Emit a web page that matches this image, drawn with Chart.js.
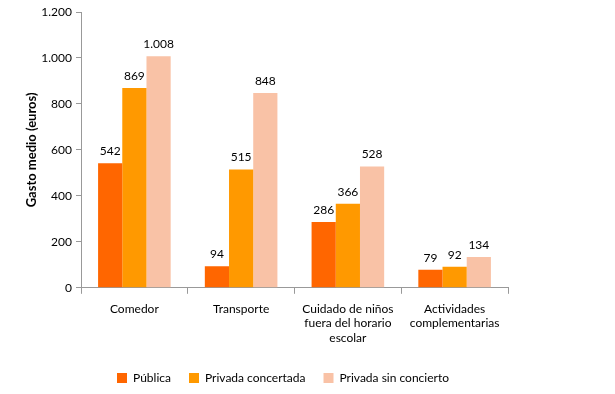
<!DOCTYPE html>
<html><head><meta charset="utf-8">
<script src="https://cdn.jsdelivr.net/npm/chart.js@4/dist/chart.umd.min.js"></script>
<style>html,body{margin:0;padding:0;background:#fff}#wrap{width:615px;height:394px}</style>
</head><body><div id="wrap"><canvas id="c" width="615" height="394"></canvas></div>
<script>
const categories = [["Comedor"], ["Transporte"], ["Cuidado de niños","fuera del horario","escolar"], ["Actividades","complementarias"]];
const seriesNames = ["Pública", "Privada concertada", "Privada sin concierto"];
const publica = [542, 94, 286, 79];
const concertada = [869, 515, 366, 92];
const sinConcierto = [1008, 848, 528, 134];
const yTicks = [0, 200, 400, 600, 800, 1000, 1200];
const colors = ["#FF6600", "#FF9900", "#F9C2A6"];

function fmt(v){ return String(v).replace(/\B(?=(\d{3})+(?!\d))/g, "."); }
const FONT = "Lato";

const labelPlugin = {
  id: 'vals',
  afterDatasetsDraw(chart){
    const ctx = chart.ctx;
    ctx.save();
    ctx.font = "12px " + FONT;
    ctx.fillStyle = "#000";
    ctx.textAlign = "center";
    ctx.textBaseline = "bottom";
    chart.data.datasets.forEach((ds, i) => {
      chart.getDatasetMeta(i).data.forEach((bar, j) => {
        ctx.fillText(fmt(ds.data[j]), bar.x, bar.y - 6);
      });
    });
    ctx.restore();
  }
};

new Chart(document.getElementById('c'), {
  type: 'bar',
  data: {
    labels: categories,
    datasets: [
      {label: seriesNames[0], data: publica, backgroundColor: colors[0]},
      {label: seriesNames[1], data: concertada, backgroundColor: colors[1]},
      {label: seriesNames[2], data: sinConcierto, backgroundColor: colors[2]}
    ]
  },
  options: {
    responsive: false,
    animation: false,
    devicePixelRatio: 1,
    layout: {padding: {top: 12, left: 0, right: 49, bottom: 0}},
    datasets: {bar: {categoryPercentage: 0.68, barPercentage: 1}},
    plugins: {
      legend: {
        position: 'bottom',
        labels: {boxWidth: 10, boxHeight: 10, padding: 18, color: '#000', font: {family: FONT, size: 12}}
      },
      tooltip: {enabled: false}
    },
    scales: {
      x: {
        grid: {display: true, drawOnChartArea: false, tickLength: 6, color: '#999', offset: true},
        border: {color: '#999'},
        ticks: {color: '#000', font: {family: FONT, size: 12}, maxRotation: 0, autoSkip: false, padding: 8},
        afterFit(s){ s.height += 1; }
      },
      y: {
        min: 0, max: 1200,
        afterBuildTicks(s){ s.ticks = yTicks.map(v => ({value: v})); },
        afterFit(s){ s.width = 81; },
        grid: {display: true, drawOnChartArea: false, tickLength: 5, color: '#999'},
        border: {color: '#999'},
        ticks: {color: '#000', font: {family: FONT, size: 12}, padding: 4, callback: v => fmt(v)},
        title: {display: true, text: 'Gasto medio (euros)', color: '#000', font: {family: FONT, size: 13, weight: 'bold'}, padding: {top: 24, bottom: 6}}
      },
      y2: {
        position: 'right', display: true,
        grid: {display: false}, border: {display: false},
        ticks: {display: false},
        afterFit(s){ s.width = 58; }
      }
    }
  },
  plugins: [labelPlugin]
});
</script></body></html>
